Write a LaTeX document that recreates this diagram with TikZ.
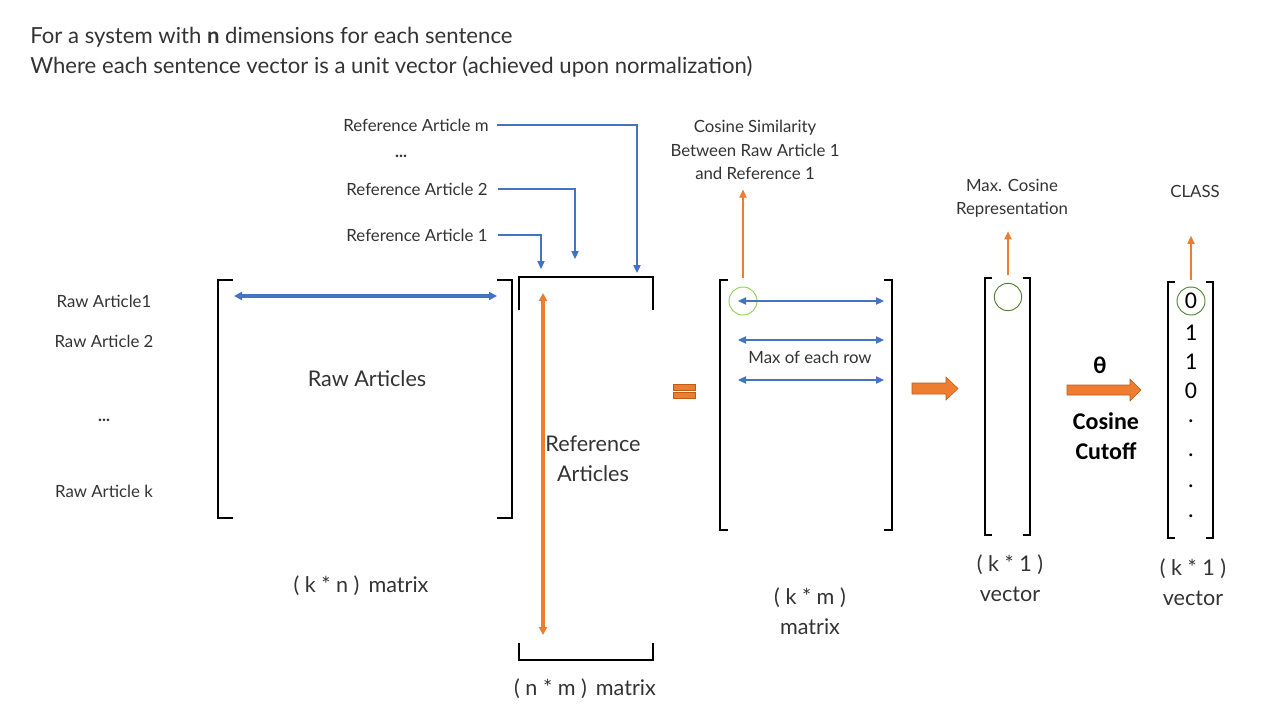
\documentclass[tikz,border=0pt]{standalone}
\usepackage{fontspec}
\setmainfont{Lato}
\newfontfamily\calib{Carlito}
\usetikzlibrary{arrows.meta, positioning}
\definecolor{refblue}{HTML}{4472C4}
\definecolor{reforange}{HTML}{ED7D31}
\definecolor{edgeorange}{HTML}{C55A11}
\definecolor{lightgreen}{HTML}{92D050}
\definecolor{darkgreen}{HTML}{548235}
\definecolor{txtgray}{HTML}{333333}

\begin{document}
\begin{tikzpicture}[x=0.75pt, y=-0.75pt,
    lbl/.style={font=\fontsize{12.6}{14}\selectfont, text=txtgray, inner sep=0pt, align=center},
    biglbl/.style={font=\fontsize{16.2}{22.5}\selectfont, text=txtgray, inner sep=0pt, align=center},
    digit/.style={font=\calib\fontsize{18}{20}\selectfont, inner sep=0pt},
    brk/.style={draw=black, line width=0.9pt},
    feed/.style={draw=refblue, line width=0.8pt, -{Triangle[length=6pt,width=5.5pt]}},
    rowarrow/.style={draw=refblue, line width=0.8pt, {Triangle[length=6pt,width=5.5pt]}-{Triangle[length=6pt,width=5.5pt]}},
    spanarrow/.style={line width=2.6pt, {Triangle[length=6pt,width=6pt]}-{Triangle[length=6pt,width=6pt]}},
    pointer/.style={draw=reforange, line width=0.8pt, -{Triangle[length=6pt,width=5.5pt]}},
    blockarrow/.style={fill=reforange, draw=edgeorange, line width=0.4pt}
  ]
\useasboundingbox (0,0) rectangle (1288,704);

% heading
\node[anchor=west, inner sep=0pt, font=\fontsize{16.6}{18}\selectfont, text=txtgray] (head1) at (30,37)
  {For a system with \textbf{n} dimensions for each sentence};
\node[anchor=west, inner sep=0pt, font=\fontsize{16.6}{18}\selectfont, text=txtgray] (head2) at (30,67)
  {Where each sentence vector is a unit vector (achieved upon normalization)};

% raw article labels
\node[lbl] (raw1) at (104,301) {Raw Article1};
\node[lbl] (raw2) at (104,341) {Raw Article 2};
\node[lbl] (rawdots) at (104,420) {\textbf{...}};
\node[lbl] (rawk) at (104,491) {Raw Article k};

% raw article matrix (k * n)
\draw[brk] (233,280) -| (218,518) -- (233,518);
\draw[brk] (497,280) -| (512,518) -- (497,518);
\coordinate (rawL) at (234,296);
\coordinate (rawR) at (497,296);
\draw[spanarrow, refblue] (rawL) -- (rawR);
\node[biglbl] (rawtxt) at (367,379) {Raw Articles};
\node[biglbl] (rawdim) at (361,586) {( k * n )\, matrix};

% reference article labels
\node[lbl] (refm) at (416,125) {Reference Article m};
\node[lbl] (refdots) at (401,156) {\textbf{...}};
\node[lbl] (ref2) at (417,189) {Reference Article 2};
\node[lbl] (ref1) at (417,235) {Reference Article 1};
\coordinate (in1) at (541,269);
\coordinate (in2) at (575,259);
\coordinate (inm) at (637,273);
\draw[feed] ([xshift=8pt]ref1.east) -| (in1);
\draw[feed] ([xshift=8pt]ref2.east) -| (in2);
\draw[feed] ([xshift=6pt]refm.east) -| (inm);

% reference article matrix (n * m)
\draw[brk] (519,310) |- (653,277) -- (653,310);
\draw[brk] (519,643) |- (653,660) -- (653,643);
\coordinate (refT) at (543,293);
\coordinate (refB) at (543,635);
\draw[spanarrow, reforange] (refT) -- (refB);
\node[biglbl] (reftxt) at (593,459) {Reference\\Articles};
\node[biglbl] (refdim) at (585,689) {( n * m )\, matrix};

% equals sign
\filldraw[blockarrow] (673,384) rectangle (695,390);
\filldraw[blockarrow] (673,392) rectangle (695,398);

% cosine similarity matrix (k * m)
\draw[brk] (728,280) -| (720,530) -- (728,530);
\draw[brk] (884,280) -| (892,530) -- (884,530);
\node[draw=lightgreen, circle, line width=0.7pt, minimum size=21pt, inner sep=0pt] (cs) at (743,301) {};
\foreach \row/\yy in {a/301, b/340, c/380} {
  \coordinate (rowL\row) at (738,\yy);
  \coordinate (rowR\row) at (884,\yy);
  \draw[rowarrow] (rowL\row) -- (rowR\row);
}
\node[lbl] (maxrow) at (810,357) {Max of each row};
\node[lbl, font=\fontsize{12.6}{17.5}\selectfont] (cosim) at (755,150)
  {Cosine Similarity\\Between Raw Article 1\\and Reference 1};
\draw[pointer] ([yshift=6.75pt]cs.north) -- ++(0,-88);
\node[biglbl] (simdim) at (810,611) {( k * m )\\matrix};

% block arrow to max vector
\filldraw[blockarrow] (912,383) -- (946,383) -- (946,377) -- (958,388.5) -- (946,400) -- (946,394) -- (912,394) -- cycle;

% max cosine vector (k * 1)
\draw[brk] (992,278) -| (985,535) -- (992,535);
\draw[brk] (1023,278) -| (1030,535) -- (1023,535);
\node[draw=darkgreen, circle, line width=0.7pt, minimum size=20.5pt, inner sep=0pt] (maxc) at (1008,297) {};
\node[lbl, font=\fontsize{12.6}{17.5}\selectfont] (maxtxt) at (1012,198) {Max. Cosine\\Representation};
\draw[pointer] ([yshift=5.6pt]maxc.north) -- ++(0,-44);
\node[biglbl] (maxdim) at (1010,578) {( k * 1 )\\vector};

% cosine cutoff
\node[font=\calib\bfseries\fontsize{18}{20}\selectfont, inner sep=0pt] (theta) at (1100,365) {θ};
\filldraw[blockarrow] (1067,385) -- (1130,385) -- (1130,379) -- (1141,390) -- (1130,401) -- (1130,395) -- (1067,395) -- cycle;
\node[font=\calib\bfseries\fontsize{18}{22.5}\selectfont, inner sep=0pt, align=center] (cutoff) at (1106,436) {Cosine\\Cutoff};

% class vector (k * 1)
\draw[brk] (1175,282) -| (1168,538) -- (1175,538);
\draw[brk] (1206,282) -| (1213,538) -- (1206,538);
\node[digit] (d1) at (1191,301) {0};
\node[digit] (d2) at (1191,333) {1};
\node[digit] (d3) at (1191,362) {1};
\node[digit] (d4) at (1191,391) {0};
\foreach \yy [count=\i] in {421, 455, 486, 516}
  \node[digit] (dot\i) at (1191,\yy) {.};
\node[draw=darkgreen, circle, line width=0.7pt, minimum size=21pt, inner sep=0pt] (clsc) at (1191,301) {};
\node[lbl] (cls) at (1195,191) {CLASS};
\draw[pointer] ([yshift=5pt]clsc.north) -- ++(0,-44);
\node[biglbl] (clsdim) at (1193,582) {( k * 1 )\\vector};
\end{tikzpicture}
\end{document}
